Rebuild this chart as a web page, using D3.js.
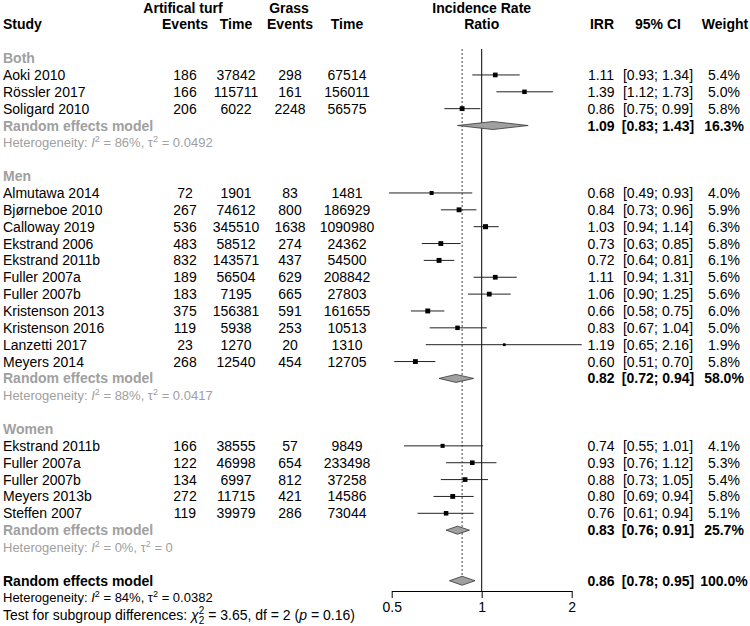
<!DOCTYPE html>
<html>
<head>
<meta charset="utf-8">
<script src="https://cdn.jsdelivr.net/npm/d3@7"></script>
<style>
  body { margin: 0; background: #fff; }
  svg { display: block; }
  text { font-family: "Liberation Sans", Arial, sans-serif; }
</style>
</head>
<body>
<svg id="chart" width="750" height="626"></svg>
<script>
// ---------- DATA ----------
const groupNames = ["Both", "Men", "Women"];

const studies = ["Aoki 2010", "Rössler 2017", "Soligard 2010",
  "Almutawa 2014", "Bjørneboe 2010", "Calloway 2019", "Ekstrand 2006", "Ekstrand 2011b",
  "Fuller 2007a", "Fuller 2007b", "Kristenson 2013", "Kristenson 2016", "Lanzetti 2017", "Meyers 2014",
  "Ekstrand 2011b", "Fuller 2007a", "Fuller 2007b", "Meyers 2013b", "Steffen 2007"];
const studyGroup = ["Both", "Both", "Both",
  "Men", "Men", "Men", "Men", "Men", "Men", "Men", "Men", "Men", "Men", "Men",
  "Women", "Women", "Women", "Women", "Women"];
const turfEvents = [186, 166, 206, 72, 267, 536, 483, 832, 189, 183, 375, 119, 23, 268, 166, 122, 134, 272, 119];
const turfTime = [37842, 115711, 6022, 1901, 74612, 345510, 58512, 143571, 56504, 7195, 156381, 5938, 1270, 12540, 38555, 46998, 6997, 11715, 39979];
const grassEvents = [298, 161, 2248, 83, 800, 1638, 274, 437, 629, 665, 591, 253, 20, 454, 57, 654, 812, 421, 286];
const grassTime = [67514, 156011, 56575, 1481, 186929, 1090980, 24362, 54500, 208842, 27803, 161655, 10513, 1310, 12705, 9849, 233498, 37258, 14586, 73044];
const irr = [1.11, 1.39, 0.86, 0.68, 0.84, 1.03, 0.73, 0.72, 1.11, 1.06, 0.66, 0.83, 1.19, 0.60, 0.74, 0.93, 0.88, 0.80, 0.76];
const ciLow = [0.93, 1.12, 0.75, 0.49, 0.73, 0.94, 0.63, 0.64, 0.94, 0.90, 0.58, 0.67, 0.65, 0.51, 0.55, 0.76, 0.73, 0.69, 0.61];
const ciHigh = [1.34, 1.73, 0.99, 0.93, 0.96, 1.14, 0.85, 0.81, 1.31, 1.25, 0.75, 1.04, 2.16, 0.70, 1.01, 1.12, 1.05, 0.94, 0.94];
const weight = [5.4, 5.0, 5.8, 4.0, 5.9, 6.3, 5.8, 6.1, 5.6, 5.6, 6.0, 5.0, 1.9, 5.8, 4.1, 5.3, 5.4, 5.8, 5.1];

const subIRR = [1.09, 0.82, 0.83];
const subLow = [0.83, 0.72, 0.76];
const subHigh = [1.43, 0.94, 0.91];
const subWeight = [16.3, 58.0, 25.7];
const subI2 = [86, 88, 0];
const subTau2 = ["0.0492", "0.0417", "0"];

const overallIRR = 0.86, overallLow = 0.78, overallHigh = 0.95, overallWeight = 100.0;
const overallI2 = 84, overallTau2 = "0.0382";
const testChi2 = "3.65", testDf = 2, testP = "0.16";

const axisTicks = [0.5, 1, 2];

// ---------- LAYOUT ----------
const svg = d3.select("#chart");
const rowY = d3.scaleLinear().domain([0, 1]).range([7.5, 7.5 + 16.86]);
const x = d3.scaleLog().base(2).domain([0.5, 2]).range([391.7, 571.7]);

const col = { study: 3, evA: 185, tmA: 236, evG: 290, tmG: 347, irr: 601, ci: 658, w: 724 };
const FS = 14, FSH = 13;
const GRAY = "#a0a0a0";
const f2 = d3.format(".2f"), f1 = d3.format(".1f");

function txt(x0, r, s, opts = {}) {
  return svg.append("text")
    .attr("x", x0).attr("y", rowY(r)).attr("dy", "0.36em")
    .attr("text-anchor", opts.anchor || "middle")
    .attr("font-size", opts.size || FS)
    .attr("font-weight", opts.bold ? "bold" : "normal")
    .attr("fill", opts.color || "#000")
    .text(s);
}

// Headers
txt(183, 0, "Artifical turf", { bold: true });
txt(289, 0, "Grass", { bold: true });
txt(col.study, 1, "Study", { bold: true, anchor: "start" });
txt(col.evA, 1, "Events", { bold: true });
txt(col.tmA, 1, "Time", { bold: true });
txt(col.evG, 1, "Events", { bold: true });
txt(col.tmG, 1, "Time", { bold: true });
txt(x(1), 0, "Incidence Rate", { bold: true });
txt(x(1), 1, "Ratio", { bold: true });
txt(602, 1, "IRR", { bold: true });
txt(col.ci, 1, "95% CI", { bold: true });
txt(725, 1, "Weight", { bold: true });

// Reference lines
svg.append("line").attr("x1", x(1)).attr("x2", x(1)).attr("y1", 49).attr("y2", 591)
  .attr("stroke", "#000").attr("stroke-width", 1);
svg.append("line").attr("x1", x(overallIRR)).attr("x2", x(overallIRR)).attr("y1", 49).attr("y2", rowY(34) - 4.5)
  .attr("stroke", "#444").attr("stroke-width", 1).attr("stroke-dasharray", "2,2");

function hetText(r, i2, tau2, color) {
  const t = svg.append("text").attr("x", col.study).attr("y", rowY(r)).attr("dy", "0.36em")
    .attr("font-size", FSH).attr("fill", color);
  t.append("tspan").text("Heterogeneity: ");
  t.append("tspan").attr("font-style", "italic").text("I");
  t.append("tspan").attr("font-size", 9).attr("dy", -5).text("2");
  t.append("tspan").attr("dy", 5).text(` = ${i2}%, τ`);
  t.append("tspan").attr("font-size", 9).attr("dy", -5).text("2");
  t.append("tspan").attr("dy", 5).text(` = ${tau2}`);
}

function diamond(r, est, lo, hi, h) {
  const cy = rowY(r);
  svg.append("path")
    .attr("d", `M${x(lo)},${cy} L${x(est)},${cy - h} L${x(hi)},${cy} L${x(est)},${cy + h} Z`)
    .attr("fill", "#a0a0a0").attr("stroke", "#333").attr("stroke-width", 0.8);
}

function ciText(r, est, lo, hi, w, bold) {
  txt(col.irr, r, f2(est), { bold });
  txt(col.ci, r, `[${f2(lo)}; ${f2(hi)}]`, { bold });
  txt(col.w, r, f1(w) + "%", { bold });
}

let row = 3;
groupNames.forEach((g, gi) => {
  txt(col.study, row, g, { bold: true, anchor: "start", color: GRAY });
  row++;
  studies.forEach((s, i) => {
    if (studyGroup[i] !== g) return;
    txt(col.study, row, s, { anchor: "start" });
    txt(col.evA, row, turfEvents[i]);
    txt(col.tmA, row, turfTime[i]);
    txt(col.evG, row, grassEvents[i]);
    txt(col.tmG, row, grassTime[i]);
    const cy = rowY(row);
    svg.append("line").attr("x1", x(ciLow[i])).attr("x2", x(ciHigh[i]))
      .attr("y1", cy).attr("y2", cy).attr("stroke", "#222").attr("stroke-width", 1);
    const sz = 2.0 * Math.sqrt(weight[i]);
    svg.append("rect").attr("x", x(irr[i]) - sz / 2).attr("y", cy - sz / 2)
      .attr("width", sz).attr("height", sz).attr("fill", "#000");
    ciText(row, irr[i], ciLow[i], ciHigh[i], weight[i], false);
    row++;
  });
  txt(col.study, row, "Random effects model", { bold: true, anchor: "start", color: GRAY });
  diamond(row, subIRR[gi], subLow[gi], subHigh[gi], 4);
  ciText(row, subIRR[gi], subLow[gi], subHigh[gi], subWeight[gi], true);
  row++;
  hetText(row, subI2[gi], subTau2[gi], GRAY);
  row += 2;
});

// Overall
txt(col.study, row, "Random effects model", { bold: true, anchor: "start" });
diamond(row, overallIRR, overallLow, overallHigh, 4.5);
ciText(row, overallIRR, overallLow, overallHigh, overallWeight, true);
row++;
hetText(row, overallI2, overallTau2, "#000");
row++;
{
  const t = svg.append("text").attr("x", col.study).attr("y", rowY(row)).attr("dy", "0.36em")
    .attr("font-size", 14).attr("fill", "#000");
  t.append("tspan").text("Test for subgroup differences: ");
  t.append("tspan").attr("font-style", "italic").text("χ");
  t.append("tspan").attr("font-size", 10).attr("dy", 4).text(testDf);
  t.append("tspan").attr("font-size", 10).attr("dx", -5.6).attr("dy", -10).text("2");
  t.append("tspan").attr("dy", 6).text(` = ${testChi2}, df = ${testDf} (`);
  t.append("tspan").attr("font-style", "italic").text("p");
  t.append("tspan").text(` = ${testP})`);
}

// Axis
const axis = d3.axisBottom(x).tickValues(axisTicks).tickFormat(d3.format("")).tickSize(7).tickSizeOuter(0).tickPadding(4);
const ag = svg.append("g").attr("transform", "translate(0,591)").call(axis);
ag.selectAll("text").attr("font-size", FS).attr("font-family", '"Liberation Sans", Arial, sans-serif').attr("fill", "#000");
ag.selectAll("line,path").attr("stroke", "#000");
</script>
</body>
</html>
